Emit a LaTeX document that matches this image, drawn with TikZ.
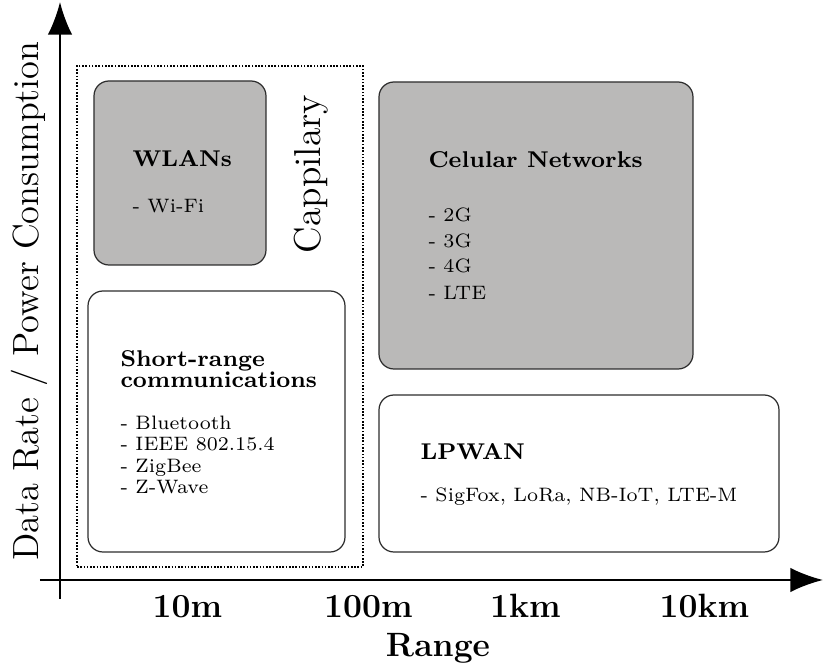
\documentclass[tikz,border=0pt]{standalone}
\usetikzlibrary{arrows.meta,fit}
\definecolor{boxgray}{RGB}{186,185,184}
\definecolor{boxline}{RGB}{45,45,45}
\begin{document}
\begin{tikzpicture}[x=0.368pt, y=-0.368pt,
  box/.style={draw=boxline, line width=0.45pt, rounded corners=5.5pt, inner sep=0pt},
  graybox/.style={box, fill=boxgray},
  whitebox/.style={box, fill=white},
  group/.style={draw=black, dash pattern=on 0.6pt off 0.6pt, line width=0.4pt, inner sep=0pt},
  head/.style={anchor=base west, inner sep=0pt, font=\fontsize{8.4}{10}\selectfont\bfseries},
  item/.style={anchor=base west, inner sep=0pt, font=\fontsize{7.15}{8.6}\selectfont},
  axis/.style={line width=0.75pt, -{Latex[length=12pt,width=9pt]}},
  tick/.style={anchor=base, inner sep=0pt, font=\fontsize{12.4}{14}\selectfont\bfseries},
]
\useasboundingbox (0,0) rectangle (824,668);

% capillary group and technology boxes
\node[group, fit={(77,66) (363,567)}] (cap) {};
\node[graybox, fit={(94,81) (266,265)}] (wlan) {};
\node[whitebox, fit={(88,291) (345,552)}] (short) {};
\node[graybox, fit={(379,82) (693,369)}] (cell) {};
\node[whitebox, fit={(379,395) (779,552)}] (lpwan) {};

% WLANs
\node[head] (wlanT) at (132,167) {WLANs};
\node[item] (wlan1) at (132,213) {- Wi-Fi};

% short-range
\node[head] (shortT1) at (120,367) {Short-range};
\node[head] (shortT2) at (120,388) {communications};
\node[item] (short1) at (120,430) {- Bluetooth};
\node[item] (short2) at (120,451) {- IEEE 802.15.4};
\node[item] (short3) at (120,473) {- ZigBee};
\node[item] (short4) at (120,494) {- Z-Wave};

% cellular
\node[head] (cellT) at (428,168) {Celular Networks};
\node[item] (cell1) at (428,222) {- 2G};
\node[item] (cell2) at (428,248) {- 3G};
\node[item] (cell3) at (428,273) {- 4G};
\node[item] (cell4) at (428,300) {- LTE};

% LPWAN
\node[head] (lpwanT) at (420,460) {LPWAN};
\node[item] (lpwan1) at (420,502) {- SigFox, LoRa, NB-IoT, LTE-M};

% group label
\node[rotate=90, anchor=base, inner sep=0pt, font=\fontsize{13.8}{16}\selectfont] (capT) at (321,174) {Cappilary};

% axes
\coordinate (ybot) at (60,599);
\coordinate (ytop) at (60,2);
\coordinate (xleft) at (40,580);
\coordinate (xright) at (823,580);
\draw[axis] (ybot) -- (ytop);
\draw[axis] (xleft) -- (xright);

\node[rotate=90, anchor=base, inner sep=0pt, font=\fontsize{13.4}{16}\selectfont] (ylab) at (38,301) {Data Rate / Power Consumption};

\node[tick] (t1) at (187.5,618) {10m};
\node[tick] (t2) at (368.5,618) {100m};
\node[tick] (t3) at (525.5,618) {1km};
\node[tick] (t4) at (704.5,618) {10km};
\node[tick] (xlab) at (438,657) {Range};
\end{tikzpicture}
\end{document}
